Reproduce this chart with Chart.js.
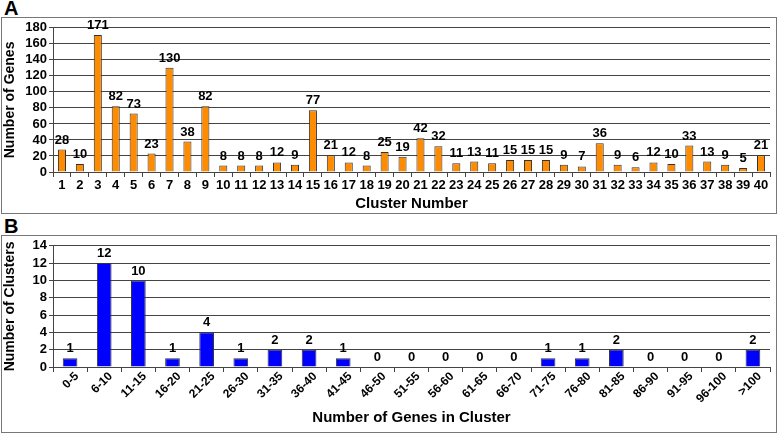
<!DOCTYPE html>
<html>
<head>
<meta charset="utf-8">
<script src="https://cdn.jsdelivr.net/npm/chart.js@4.4.0/dist/chart.umd.min.js"></script>
<style>
  body { margin: 0; background: #fff; width: 778px; height: 433px; position: relative; overflow: hidden; font-family: "Liberation Sans", Arial, sans-serif; }
  .panel { position: absolute; left: 1px; width: 774px; border: 1px solid #777; }
  .tag { position: absolute; left: 4px; font-weight: bold; font-size: 20px; line-height: 20px; }
  .slant { position: absolute; font-weight: bold; font-size: 12px; line-height: 14px; white-space: nowrap; transform-origin: 100% 50%; transform: rotate(-45deg); color: #000; }
</style>
</head>
<body>
<div class="tag" style="top:-2px">A</div>
<div class="panel" style="top:17px;height:195px"><canvas id="chartA"></canvas></div>
<div class="tag" style="top:216px">B</div>
<div class="panel" id="panelB" style="top:235px;height:196px"><canvas id="chartB"></canvas></div>
<script>
const clusters = ["1","2","3","4","5","6","7","8","9","10","11","12","13","14","15","16","17","18","19","20","21","22","23","24","25","26","27","28","29","30","31","32","33","34","35","36","37","38","39","40"];
const genesPerCluster = [28,10,171,82,73,23,130,38,82,8,8,8,12,9,77,21,12,8,25,19,42,32,11,13,11,15,15,15,9,7,36,9,6,12,10,33,13,9,5,21];

const sizeBins = ["0-5","6-10","11-15","16-20","21-25","26-30","31-35","36-40","41-45","46-50","51-55","56-60","61-65","66-70","71-75","76-80","81-85","86-90","91-95","96-100",">100"];
const clustersPerBin = [1,12,10,1,4,1,2,2,1,0,0,0,0,0,1,1,2,0,0,0,2];

const fontFamily = '"Liberation Sans", Arial, sans-serif';

// numbers above the bars
const valueLabels = {
	id: "valueLabels",
	afterDatasetsDraw(chart) {
		const ctx = chart.ctx;
		ctx.save();
		ctx.font = "bold 13px " + fontFamily;
		ctx.fillStyle = "#000";
		ctx.textAlign = "center";
		ctx.textBaseline = "bottom";
		chart.getDatasetMeta(0).data.forEach((bar, i) => {
			ctx.fillText(chart.data.datasets[0].data[i], bar.x, bar.y - 3);
		});
		ctx.restore();
	}
};

function makeChart(id, labels, values, color, yMax, step, yTitle, xTitle, showTicks, tickSize, axisHeight, titlePad, barPct) {
	return new Chart(document.getElementById(id), {
		type: "bar",
		data: {
			labels: labels,
			datasets: [{
				data: values,
				backgroundColor: color,
				borderColor: "#333",
				borderWidth: 1,
				barPercentage: barPct,
				categoryPercentage: 1
			}]
		},
		plugins: [valueLabels],
		options: {
			responsive: true,
			maintainAspectRatio: false,
			animation: false,
			layout: { padding: { top: 7, right: 6, left: 0, bottom: 0 } },
			plugins: { legend: { display: false }, tooltip: { enabled: false } },
			scales: {
				x: {
					afterFit: (scale) => { scale.height = axisHeight; },
					grid: { drawOnChartArea: false, tickLength: 5, color: "#444" },
					border: { display: true, color: "#444" },
					ticks: {
						display: showTicks,
						color: "#000",
						font: { family: fontFamily, weight: "bold", size: tickSize },
						maxRotation: 0,
						autoSkip: false,
						padding: 1
					},
					title: {
						display: true,
						text: xTitle,
						color: "#000",
						font: { family: fontFamily, weight: "bold", size: 15 },
						padding: { top: 0, bottom: titlePad }
					}
				},
				y: {
					min: 0,
					max: yMax,
					afterFit: (scale) => { scale.width = 51; },
					grid: { color: "#444", tickLength: 4 },
					border: { display: true, color: "#444" },
					ticks: {
						stepSize: step,
						autoSkip: false,
						color: "#000",
						font: { family: fontFamily, weight: "bold", size: 13 },
						padding: 2
					},
					title: {
						display: true,
						text: yTitle,
						color: "#000",
						font: { family: fontFamily, weight: "bold", size: 14 },
						padding: { top: 0, bottom: 1 }
					}
				}
			}
		}
	});
}

makeChart("chartA", clusters, genesPerCluster, "#ff8c00", 180, 20, "Number of Genes", "Cluster Number", true, 13, 41, 0, 0.45);
const chartB = makeChart("chartB", sizeBins, clustersPerBin, "#0000ff", 14, 2, "Number of Clusters", "Number of Genes in Cluster", false, 12, 65, 5, 0.43);

// slanted category labels for panel B, placed from the chart's own x scale
const xScale = chartB.scales.x;
sizeBins.forEach((label, i) => {
	const span = document.createElement("span");
	span.className = "slant";
	span.textContent = label;
	span.style.right = (778 - (2 + xScale.getPixelForTick(i) + 6)) + "px";
	span.style.top = (236 + xScale.top + 7 - 7) + "px";
	document.body.appendChild(span);
});
</script>
</body>
</html>
